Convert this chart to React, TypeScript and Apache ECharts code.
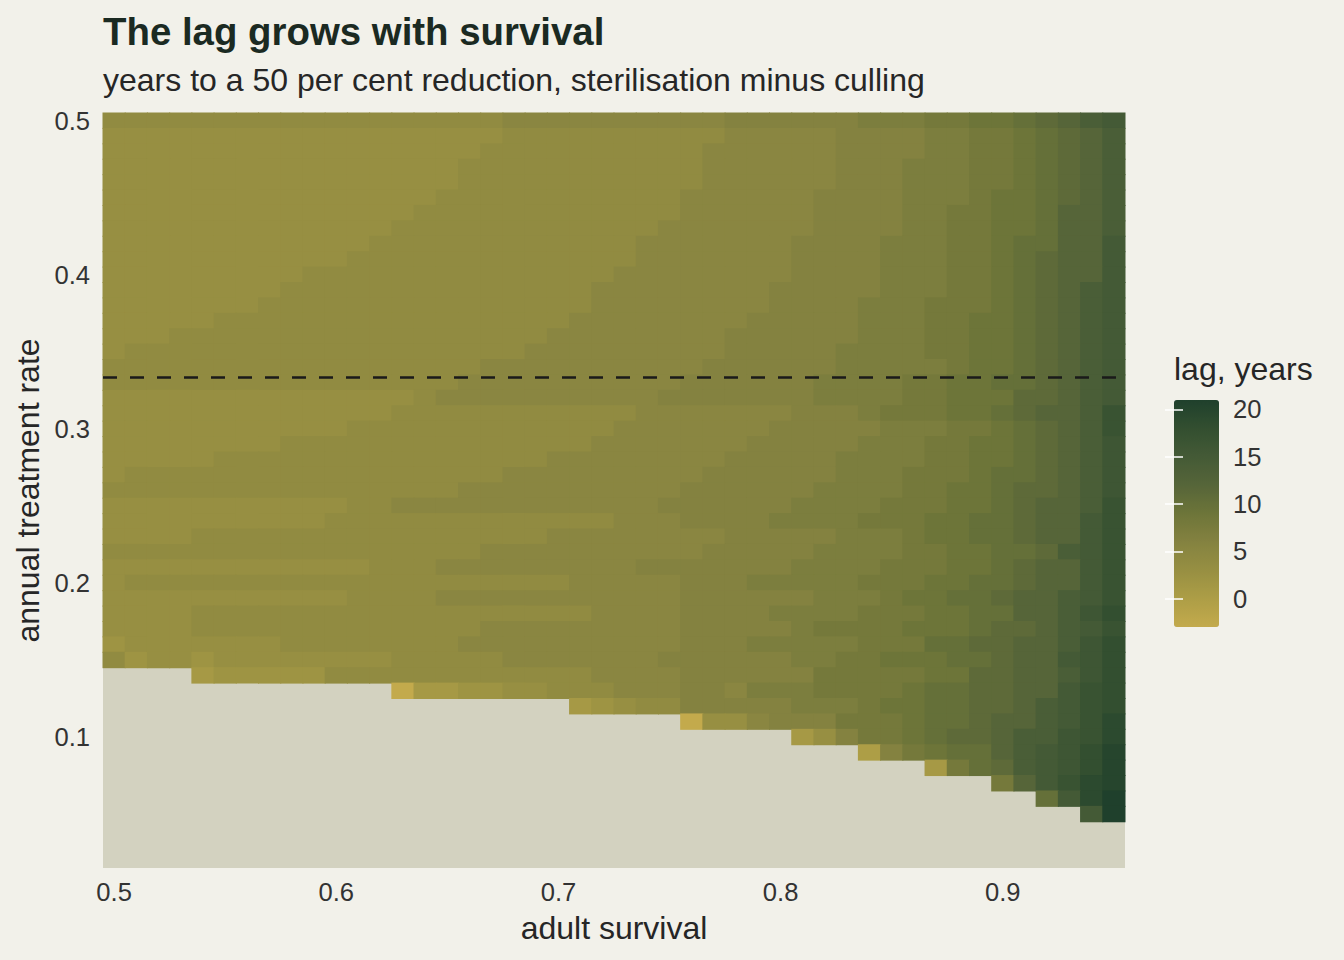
import React, { useEffect, useRef } from "react";
import * as echarts from "echarts";

// adult survival, one column per value
const survival = [
  0.5, 0.51, 0.52, 0.53, 0.54, 0.55, 0.56, 0.57, 0.58, 0.59,
  0.6, 0.61, 0.62, 0.63, 0.64, 0.65, 0.66, 0.67, 0.68, 0.69,
  0.7, 0.71, 0.72, 0.73, 0.74, 0.75, 0.76, 0.77, 0.78, 0.79,
  0.8, 0.81, 0.82, 0.83, 0.84, 0.85, 0.86, 0.87, 0.88, 0.89,
  0.9, 0.91, 0.92, 0.93, 0.94, 0.95,
];

// annual treatment rate, one row per value (bottom to top)
const treatmentRate = [
  0.02, 0.03, 0.04, 0.05, 0.06, 0.07, 0.08, 0.09, 0.1, 0.11,
  0.12, 0.13, 0.14, 0.15, 0.16, 0.17, 0.18, 0.19, 0.2, 0.21,
  0.22, 0.23, 0.24, 0.25, 0.26, 0.27, 0.28, 0.29, 0.3, 0.31,
  0.32, 0.33, 0.34, 0.35, 0.36, 0.37, 0.38, 0.39, 0.4, 0.41,
  0.42, 0.43, 0.44, 0.45, 0.46, 0.47, 0.48, 0.49, 0.5,
];

// lag in years, one row per treatment rate from 0.50 down to 0.02,
// runs from left to right: "value:count" (count 1 if left out), "na" = no reduction reached
const lagRows = [
  "4:18 5:10 6:6 7:3 8:2 9:2 10 11 12 14 15",
  "3:18 4:10 5:5 6:4 7:2 8:2 9 10 11 12 14",
  "3:17 4:10 5:6 6:4 7:2 8:2 9 10 11 12 14",
  "3:16 4:11 5:6 6:3 7:3 8:2 9 10 11 12 14",
  "3:16 4:11 5:6 6:3 7:3 8:2 9 10 11 12 14",
  "3:15 4:11 5:6 6:4 7:3 8 9:2 10 11 12 14",
  "3:14 4:12 5:6 6:4 7:2 8:2 9:2 10 12:2 14",
  "3:13 4:12 5:7 6:4 7:2 8:2 9:2 10 12:2 14",
  "3:12 4:12 5:7 6:4 7:3 8:2 9 10:2 12:2 15",
  "3:11 4:13 5:7 6:4 7:3 8:2 9 10 11 12:2 15",
  "3:9 4:14 5:8 6:4 7:3 8:2 9 10 11 12:2 15",
  "3:8 4:14 5:8 6:5 7:3 8:2 9 10 11 12 14 15",
  "3:7 4:15 5:8 6:4 7:3 8:3 9 10 11 12 14 15",
  "3:5 4:16 5:8 6:5 7:3 8:2 9:2 10 11 12 14 15",
  "3:3 4:17 5:8 6:6 7:3 8:2 9:2 10 11 12 14 15",
  "3 4:18 5:9 6:5 7:4 8:2 9:2 10 11 12 14 15",
  "4:17 5:10 6:6 7:5 8 9:2 10 11 12 14 15",
  "4:16 5:10 6:6 7:4 8:2 9:2 10:2 11 12 14 15",
  "3:14 4 5:10 6:7 7:4 8:2 9:3 11:2 12 14 15",
  "3:13 4:11 5:7 6:3 7 8:3 9:2 10 11 12:2 14 17",
  "3:11 4:12 5:7 6:5 7:3 8:2 9 10 11 12 14 17",
  "3:8 4:14 5:7 6:5 7:3 8:2 9:2 10 11 12 14 16",
  "3:5 4:15 5:8 6:5 7:4 8:2 9:2 10 11 12 14 16",
  "3 4:17 5:9 6:6 7:3 8:3 9 10:2 11 12 14 16",
  "4:16 5:10 6:6 7:4 8:2 9:2 10 11:2 12 14 16",
  "3:11 4:2 5:12 6:6 7:4 8:3 9:2 10 11 12:2 14 17",
  "3:10 4:13 5:3 6:4 7:4 8:3 9:2 10:2 11 12:2 15 17",
  "3:4 4:16 5:8 6:5 7:3 8 9:2 10:2 11 12:2 15 17",
  "4:17 5:10 6:5 7:4 8:2 9:2 10:2 11 14 15 17",
  "3:12 4:3 5:9 6:7 7:4 8:3 9:2 10 11 12:2 15 17",
  "3 4:20 5:5 6:3 7:5 8:3 9:2 10:2 11 12:2 15 17",
  "3:11 4:4 5:11 6:6 7:3 8 9:2 10:2 11 12:2 14 15 17",
  "3:4 4:18 5:4 6:4 7:4 8:3 9:2 10:2 12:2 14 16 18",
  "3:4 4:13 5:9 6:5 7 8:4 9:3 10 11:2 12 14 15 17",
  "2 3:7 4:8 5:10 6:3 7:5 8:3 10:2 11:2 12:2 14 16 18",
  "4 2 3:2 2 3:8 4:5 5:7 6:6 7:2 8:2 9:3 10:2 11 12:2 15 16 18",
  "na:4 1 2:5 4:12 5:4 6:6 8:5 9:2 11:2 12:2 14 16 18",
  "na:13 -3 1:2 2:2 3:2 4:3 5:3 6:2 5 7:3 8:4 9 10:2 11:2 12:2 15 17 18",
  "na:21 1 2 3 4:2 6:5 7:3 8 9:2 10:2 11:2 12 14 15 17 18",
  "na:26 -3 3:2 5 6:3 8:3 9 10:2 11 12:2 14 15 17 19",
  "na:31 1 3 6 8:2 9 10 11:2 12 14:2 16 17 19",
  "na:34 0 6 8 9 10:2 12 14 15 16 18 20",
  "na:37 1 8 10 11 14 15 16 18 20",
  "na:40 8 12 15 17 19 20",
  "na:42 10 15 19 21",
  "na:44 15 21",
  "na:46",
  "na:46",
  "na:46",
];

const survivalTicks = ["0.5", "0.6", "0.7", "0.8", "0.9"];
const rateTicks = ["0.1", "0.2", "0.3", "0.4", "0.5"];
const legendTicks = [0, 5, 10, 15, 20];
const lagMin = -3;
const lagMax = 21;
// colours at -3, 0, 3, ... 21
const lagColors = [
  "#c3aa4c", "#ad9e46", "#978f42", "#848240", "#6d7539",
  "#566539", "#445a36", "#334f30", "#1f402c",
];
const referenceRate = 1 / 3;

const FONT = "'Liberation Sans', Arial, sans-serif";
const INK = "#262626";

const App: React.FC = () => {
  const chartRef = useRef<HTMLDivElement>(null);

  useEffect(() => {
    const chart = echarts.init(chartRef.current!, undefined, { renderer: "svg" });

    const cells: number[][] = [];
    lagRows.forEach((row, r) => {
      const yi = treatmentRate.length - 1 - r;
      let xi = 0;
      row.split(" ").forEach((tok) => {
        const [v, n] = tok.split(":");
        const count = n ? Number(n) : 1;
        for (let k = 0; k < count; k++) {
          if (v !== "na") cells.push([xi, yi, Number(v)]);
          xi++;
        }
      });
      if (xi !== survival.length) console.warn("row", r, "has", xi, "cells");
    });

    const xCats = survival.map((v) => v.toFixed(2));
    const yCats = treatmentRate.map((v) => v.toFixed(2));
    const short = (v: string) => String(Number(v));

    const legendAxis = (position: "left" | "right", labels: boolean) => ({
      type: "value",
      gridIndex: 1,
      min: lagMin,
      max: lagMax,
      position,
      z: 10,
      axisLine: { show: false },
      splitLine: { show: false },
      axisTick: {
        show: true,
        inside: true,
        length: 9,
        customValues: legendTicks,
        lineStyle: { color: "#ffffff", width: 1.5 },
      },
      axisLabel: labels
        ? { customValues: legendTicks, fontSize: 25.6, color: "#333333", margin: 14 }
        : { show: false },
    });

    chart.setOption({
      animation: false,
      backgroundColor: "#f2f1ea",
      textStyle: { fontFamily: FONT },
      title: {
        text: "The lag grows with survival",
        subtext: "years to a 50 per cent reduction, sterilisation minus culling",
        left: 103,
        top: 12,
        padding: 0,
        itemGap: 14,
        textStyle: { fontSize: 38.4, fontWeight: "bold", color: "#1b2a22", fontFamily: FONT },
        subtextStyle: { fontSize: 32, color: INK, fontFamily: FONT },
      },
      grid: [
        {
          left: 103,
          top: 113,
          width: 1022,
          height: 755,
          show: true,
          backgroundColor: "#d3d2c0",
          borderWidth: 0,
        },
        { left: 1174, top: 400, width: 45, height: 227 },
      ],
      xAxis: [
        {
          type: "category",
          data: xCats,
          gridIndex: 0,
          name: "adult survival",
          nameLocation: "middle",
          nameGap: 44,
          nameTextStyle: { fontSize: 32, color: INK },
          axisLine: { show: false },
          axisTick: { show: false },
          splitLine: { show: false },
          axisLabel: {
            interval: (_i: number, v: string) => survivalTicks.includes(short(v)),
            formatter: (v: string) => short(v),
            fontSize: 25.6,
            color: "#333333",
            margin: 11,
          },
        },
        { type: "value", gridIndex: 0, min: 0.495, max: 0.955, show: false },
        { type: "value", gridIndex: 1, min: 0, max: 1, show: false },
      ],
      yAxis: [
        {
          type: "category",
          data: yCats,
          gridIndex: 0,
          name: "annual treatment rate",
          nameLocation: "middle",
          nameGap: 57,
          nameTextStyle: { fontSize: 32, color: INK },
          axisLine: { show: false },
          axisTick: { show: false },
          splitLine: { show: false },
          axisLabel: {
            interval: (_i: number, v: string) => rateTicks.includes(short(v)),
            formatter: (v: string) => short(v),
            fontSize: 25.6,
            color: "#333333",
            margin: 13,
          },
        },
        {
          type: "value",
          gridIndex: 0,
          min: 0.015,
          max: 0.505,
          position: "right",
          show: false,
        },
        legendAxis("right", true),
        legendAxis("left", false),
      ],
      visualMap: {
        type: "continuous",
        seriesIndex: 0,
        dimension: 2,
        min: lagMin,
        max: lagMax,
        inRange: { color: lagColors },
        orient: "vertical",
        left: 1174,
        top: 400,
        itemWidth: 45,
        itemHeight: 227,
        padding: 0,
        calculable: false,
        hoverLink: false,
      },
      graphic: [
        {
          type: "text",
          left: 1174,
          top: 353,
          style: { text: "lag, years", fontSize: 32, fill: INK, fontFamily: FONT },
        },
      ],
      series: [
        {
          // one rectangle per cell, widened by half a pixel so neighbours leave no seam
          type: "custom",
          xAxisIndex: 0,
          yAxisIndex: 0,
          data: cells,
          silent: true,
          encode: { x: 0, y: 1 },
          renderItem: (_params: any, api: any) => {
            const c = api.coord([api.value(0), api.value(1)]);
            const s = api.size([1, 1]);
            return {
              type: "rect",
              shape: {
                x: c[0] - s[0] / 2 - 0.5,
                y: c[1] - s[1] / 2 - 0.5,
                width: s[0] + 1,
                height: s[1] + 1,
              },
              style: { fill: api.visual("color") },
            };
          },
        },
        {
          type: "line",
          xAxisIndex: 1,
          yAxisIndex: 1,
          data: [
            [0.495, referenceRate],
            [0.955, referenceRate],
          ],
          symbol: "none",
          silent: true,
          z: 5,
          lineStyle: { color: "#1a1a1a", width: 2.5, type: [14, 13] },
        },
      ],
    });

    return () => {
      chart.dispose();
    };
  }, []);

  return (
    <div
      ref={chartRef}
      style={{ position: "fixed", left: 0, top: 0, width: "1344px", height: "960px" }}
    />
  );
};

export default App;
